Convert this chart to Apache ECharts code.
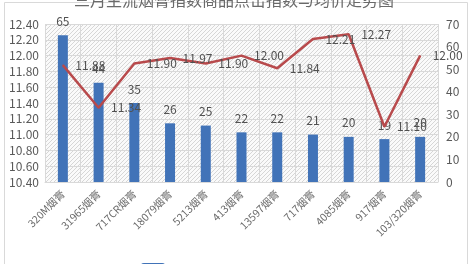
<!DOCTYPE html>
<html><head><meta charset="utf-8">
<script src="https://cdn.jsdelivr.net/npm/echarts@6/dist/echarts.min.js"></script>
<style>html,body{margin:0;padding:0;background:#fff}#c{width:468px;height:264px}</style>
</head><body><div id="c"></div>
<script>
const titleText = '三月主流烟膏指数商品点击指数与均价走势图';
const categories = ['320M烟膏','31965烟膏','717CR烟膏','18079烟膏','5213烟膏','413烟膏','13597烟膏','717烟膏','4085烟膏','917烟膏','103/320烟膏'];
const countValues = [65, 44, 35, 26, 25, 22, 22, 21, 20, 19, 20];
const priceValues = [11.88, 11.34, 11.90, 11.97, 11.90, 12.00, 11.84, 12.21, 12.27, 11.10, 12.00];
const leftTicks = {min: 10.4, max: 12.4, interval: 0.2};
const rightTicks = {min: 0, max: 70, interval: 10};

const pc = document.createElement('canvas');
pc.width = 4; pc.height = 4;
const g = pc.getContext('2d');
g.fillStyle = '#fafafa'; g.fillRect(0,0,4,4);
g.fillStyle = '#d6d6d6';
g.fillRect(0,3,1,1); g.fillRect(1,2,1,1); g.fillRect(2,1,1,1); g.fillRect(3,0,1,1);

const chart = echarts.init(document.getElementById('c'), null, {renderer:'canvas'});
chart.setOption({
  animation: false,
  backgroundColor: '#fff',
  textStyle: {fontFamily: '"Noto Sans CJK SC", "Liberation Sans", sans-serif'},
  title: {text: titleText, left: 'center', top: -13,
    textStyle: {fontSize: 16, fontWeight: 'normal', color: '#6a6a6a'}},
  legend: {bottom: -18, itemGap: 60, textStyle: {fontSize: 11, color: '#6a6a6a'},
    data: ['点击指数', '均价']},
  graphic: [{type:'rect', left: 2, top: 0, shape:{width: 463, height: 270}, style:{fill:'none', stroke:'#d9d9d9', lineWidth:1}, silent:true}],
  grid: {left: 45, right: 30, top: 24, bottom: 82, show: true,
    backgroundColor: {image: pc, repeat: 'repeat'}, borderWidth: 0},
  xAxis: {type: 'category', data: categories,
    axisLine: {show: true, lineStyle: {color: '#d9d9d9'}},
    axisTick: {show: false},
    splitLine: {show: true, interval: 0, lineStyle: {color: '#d9d9d9'}},
    axisLabel: {interval: 0, rotate: 45, fontSize: 10.5, color: '#6a6a6a', margin: 10}},
  yAxis: [
    {type: 'value', min: leftTicks.min, max: leftTicks.max, interval: leftTicks.interval,
      axisLine: {show: false}, axisTick: {show: false},
      splitLine: {lineStyle: {color: '#d9d9d9'}},
      axisLabel: {fontSize: 12, color: '#595959', margin: 6, formatter: v => v.toFixed(2)}},
    {type: 'value', min: rightTicks.min, max: rightTicks.max, interval: rightTicks.interval,
      axisLine: {show: false}, axisTick: {show: false}, splitLine: {show: false},
      axisLabel: {fontSize: 12, color: '#595959', margin: 8}}
  ],
  series: [
    {name: '点击指数', type: 'bar', yAxisIndex: 1, data: countValues, barWidth: 10,
      itemStyle: {color: '#4173b8'},
      label: {show: true, position: 'top', fontSize: 12, color: '#505050', distance: 8}},
    {name: '均价', type: 'line', yAxisIndex: 0, data: priceValues,
      symbol: 'circle', symbolSize: 1, showSymbol: true,
      lineStyle: {color: '#b84a4c', width: 2.5}, itemStyle: {color: '#b84a4c'},
      label: {show: true, position: 'right', distance: 12, fontSize: 12, color: '#505050',
        formatter: p => p.value.toFixed(2)}}
  ]
});
</script></body></html>
